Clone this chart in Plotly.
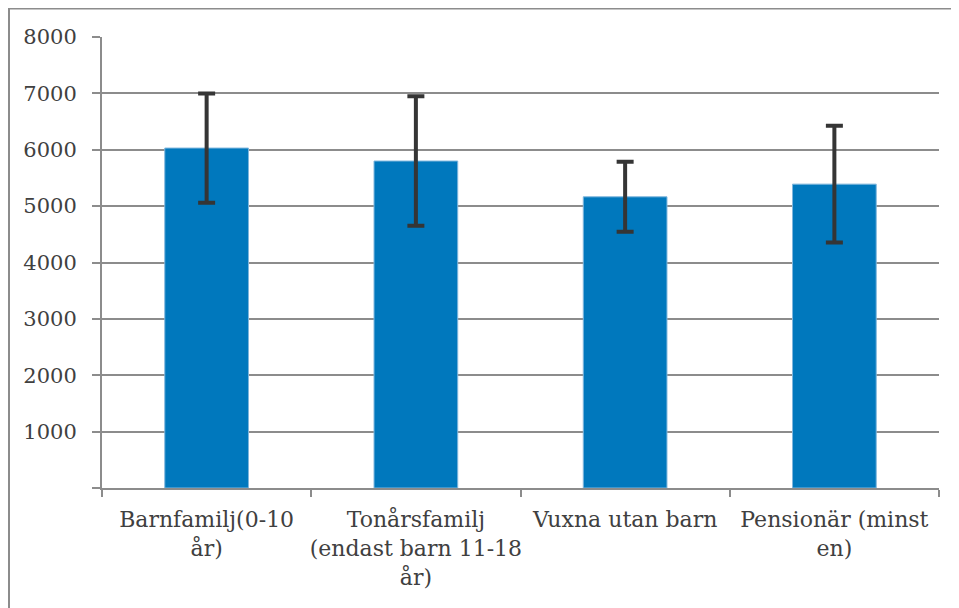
import plotly.graph_objects as go

categories = ["Barnfamilj(0-10<br>år)", "Tonårsfamilj<br>(endast barn 11-18<br>år)",
              "Vuxna utan barn", "Pensionär (minst<br>en)"]
values = [6030, 5800, 5165, 5390]
errors = [970, 1150, 620, 1035]
y_ticks = [0, 1000, 2000, 3000, 4000, 5000, 6000, 7000, 8000]
y_ticktext = ["", "1000", "2000", "3000", "4000", "5000", "6000", "7000", "8000"]

L, R, T, B = 94, 28, 29, 128
PW = 959 - L - R
PH = 608 - T - B

fig = go.Figure()
fig.add_trace(go.Bar(
    x=categories, y=values,
    marker=dict(color="#0078BD", line=dict(color="#7fb6dd", width=1)),
    error_y=dict(type="data", array=errors, visible=True,
                 color="#353535", thickness=4, width=8.5),
    width=0.4,
))

xfont = dict(family="DejaVu Serif", size=22, color="#404040")
yfont = dict(family="DejaVu Serif", size=21, color="#404040")
fig.update_layout(
    width=959, height=608,
    margin=dict(l=L, r=R, t=T, b=B),
    paper_bgcolor="white", plot_bgcolor="white",
    showlegend=False,
    font=xfont,
    bargap=0.6,
    shapes=[dict(type="rect", xref="paper", yref="paper",
                 x0=-(L - 1) / PW, x1=1.2, y0=-0.5, y1=1 + (T - 0.5) / PH,
                 line=dict(color="#8c8c8c", width=2), fillcolor="rgba(0,0,0,0)", layer="below")],
)
fig.update_xaxes(
    showline=True, linecolor="#8c8c8c", linewidth=2,
    ticks="outside", ticklen=7, tickcolor="#8c8c8c", tickwidth=2,
    tickson="boundaries", showgrid=False, tickangle=0,
    ticklabelstandoff=11, tickfont=xfont, automargin=False,
)
fig.update_yaxes(
    range=[0, 8000], tickvals=y_ticks, ticktext=y_ticktext,
    showline=True, linecolor="#8c8c8c", linewidth=2,
    ticks="outside", ticklen=8, tickcolor="#8c8c8c", tickwidth=2,
    showgrid=True, gridcolor="#8c8c8c", gridwidth=2,
    zeroline=False, ticklabelstandoff=11, tickfont=yfont, automargin=False,
)
fig.write_html("out.html")
